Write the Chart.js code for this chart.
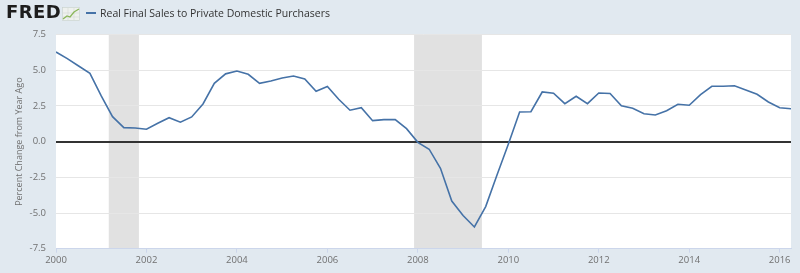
<!DOCTYPE html>
<html>
<head>
<meta charset="utf-8">
<script src="https://cdn.jsdelivr.net/npm/chart.js@4.4.1/dist/chart.umd.min.js"></script>
<style>
  html, body { margin: 0; padding: 0; background: #e1e9f0; }
  #wrap { position: relative; width: 800px; height: 273px; overflow: hidden; }
  #chart { position: absolute; left: 0; top: 0; }
  #logo { position: absolute; left: 6px; top: 1px; font: bold 18px "DejaVu Sans", sans-serif; color: #1d1d1d; letter-spacing: 0.4px; z-index: 2; }
  #icon { position: absolute; left: 62px; top: 7px; z-index: 2; }
  #legend { position: absolute; left: 86px; top: 6px; font: 10.5px "Open Sans", sans-serif; color: #333; z-index: 2; white-space: nowrap; }
  #legend .swatch { display: inline-block; width: 10px; height: 2px; background: #4572a7; vertical-align: middle; margin-right: 4px; position: relative; top: -1px; }
</style>
</head>
<body>
<div id="wrap">
  <div id="logo">FRED</div>
  <svg id="icon" width="18" height="14" viewBox="0 0 18 14">
    <rect x="0.5" y="0.5" width="17" height="13" fill="#eef1ee" stroke="#c9d0cb" stroke-width="0.6"/>
    <path d="M1 10 H17 M1 6 H17 M6 1 V13 M12 1 V13" stroke="#d3d9d4" stroke-width="0.6"/>
    <polyline points="1,12 5,9 8,10 12,5 17,2" fill="none" stroke="#8bb75a" stroke-width="1.3"/>
  </svg>
  <div id="legend"><span class="swatch"></span>Real Final Sales to Private Domestic Purchasers</div>
  <canvas id="chart" width="800" height="273"></canvas>
</div>
<script>
// Quarterly observations, percent change from year ago
const quarters = [
  "2000Q1","2000Q2","2000Q3","2000Q4","2001Q1","2001Q2","2001Q3","2001Q4",
  "2002Q1","2002Q2","2002Q3","2002Q4","2003Q1","2003Q2","2003Q3","2003Q4",
  "2004Q1","2004Q2","2004Q3","2004Q4","2005Q1","2005Q2","2005Q3","2005Q4",
  "2006Q1","2006Q2","2006Q3","2006Q4","2007Q1","2007Q2","2007Q3","2007Q4",
  "2008Q1","2008Q2","2008Q3","2008Q4","2009Q1","2009Q2","2009Q3","2009Q4",
  "2010Q1","2010Q2","2010Q3","2010Q4","2011Q1","2011Q2","2011Q3","2011Q4",
  "2012Q1","2012Q2","2012Q3","2012Q4","2013Q1","2013Q2","2013Q3","2013Q4",
  "2014Q1","2014Q2","2014Q3","2014Q4","2015Q1","2015Q2","2015Q3","2015Q4",
  "2016Q1","2016Q2"
];
const salesChange = [
  6.28, 5.82, 5.30, 4.79, 3.20, 1.75, 0.98, 0.96,
  0.87, 1.29, 1.68, 1.36, 1.73, 2.64, 4.09, 4.75,
  4.95, 4.72, 4.09, 4.25, 4.46, 4.60, 4.39, 3.53,
  3.86, 2.97, 2.20, 2.38, 1.47, 1.54, 1.54, 0.91,
  -0.05, -0.53, -1.87, -4.16, -5.18, -5.98, -4.55, -2.33,
  -0.18, 2.08, 2.10, 3.48, 3.39, 2.66, 3.18, 2.66,
  3.41, 3.37, 2.52, 2.34, 1.96, 1.87, 2.17, 2.62,
  2.55, 3.30, 3.88, 3.88, 3.92, 3.62, 3.32, 2.78,
  2.38, 2.31
];
// Recession periods (start month, end month)
const recessions = [["2001-03", "2001-11"], ["2007-12", "2009-06"]];
const xTickYears = [2000, 2002, 2004, 2006, 2008, 2010, 2012, 2014, 2016];
const yTickValues = [-7.5, -5.0, -2.5, 0.0, 2.5, 5.0, 7.5];

function quarterToYear(q) {
  return +q.slice(0, 4) + (+q.slice(5) - 1) * 0.25;
}
function monthToYear(m) {
  return +m.slice(0, 4) + (+m.slice(5) - 1) / 12;
}

const points = quarters.map((q, i) => ({ x: quarterToYear(q), y: salesChange[i] }));

const backdrop = {
  id: "backdrop",
  beforeDraw(chart) {
    const { ctx, chartArea: a, scales: { x } } = chart;
    ctx.save();
    ctx.fillStyle = "#ffffff";
    ctx.fillRect(a.left, a.top, a.right - a.left, a.bottom - a.top);
    ctx.fillStyle = "#e1e1e1";
    recessions.forEach(([s, e]) => {
      const x0 = x.getPixelForValue(monthToYear(s));
      const x1 = x.getPixelForValue(monthToYear(e));
      ctx.fillRect(x0, a.top, x1 - x0, a.bottom - a.top);
    });
    ctx.restore();
  }
};

new Chart(document.getElementById("chart"), {
  type: "line",
  data: {
    datasets: [{
      label: "Real Final Sales to Private Domestic Purchasers",
      data: points,
      borderColor: "#4572a7",
      borderWidth: 1.6,
      pointRadius: 0,
      tension: 0
    }]
  },
  options: {
    responsive: false,
    animation: false,
    layout: { padding: { top: 34.6, right: 9, left: 0, bottom: 0 } },
    plugins: { legend: { display: false }, tooltip: { enabled: false } },
    scales: {
      x: {
        type: "linear",
        min: 2000,
        max: 2016.25,
        afterBuildTicks: s => { s.ticks = xTickYears.map(v => ({ value: v })); },
        afterFit: s => { s.height = 24.3; },
        ticks: {
          autoSkip: false,
          maxRotation: 0,
          padding: 2,
          color: "#707070",
          font: { family: "Open Sans", size: 9.5 },
          callback: v => String(v)
        },
        grid: { drawOnChartArea: false, drawTicks: true, tickLength: 4, color: "#ccd6eb" },
        border: { color: "#ccd6eb" }
      },
      y: {
        min: -7.5,
        max: 7.5,
        afterBuildTicks: s => { s.ticks = yTickValues.map(v => ({ value: v })); },
        afterFit: s => { s.width = 56; },
        ticks: {
          padding: 10,
          color: "#707070",
          font: { family: "Open Sans", size: 9.5 },
          callback: v => v.toFixed(1)
        },
        grid: {
          drawTicks: false,
          color: c => (c.tick && c.tick.value === 0 ? "#333333" : "#e6e6e6"),
          lineWidth: c => (c.tick && c.tick.value === 0 ? 2 : 1)
        },
        border: { display: false },
        title: {
          display: true,
          text: "Percent Change from Year Ago",
          color: "#707070",
          font: { family: "Open Sans", size: 9 },
          padding: { top: 14, bottom: 0 }
        }
      }
    }
  },
  plugins: [backdrop]
});
</script>
</body>
</html>
